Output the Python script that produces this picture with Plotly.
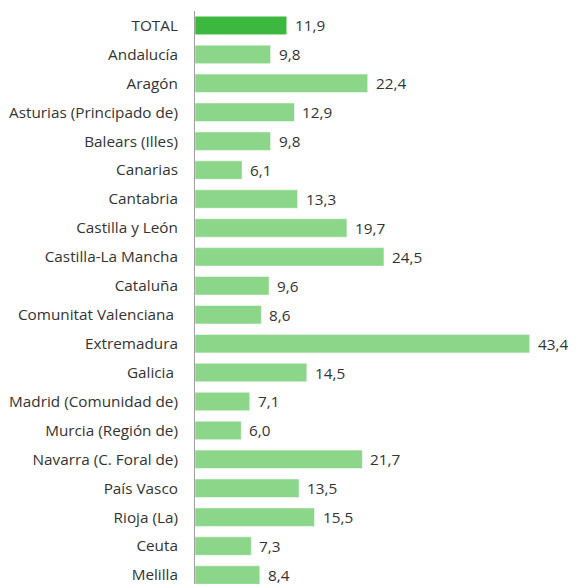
import plotly.graph_objects as go

categories = ["TOTAL", "Andalucía", "Aragón", "Asturias (Principado de)", "Balears (Illes)",
              "Canarias", "Cantabria", "Castilla y León", "Castilla-La Mancha", "Cataluña",
              "Comunitat Valenciana ", "Extremadura", "Galicia ", "Madrid (Comunidad de)",
              "Murcia (Región de)", "Navarra (C. Foral de)", "País Vasco", "Rioja (La)",
              "Ceuta", "Melilla"]
values = [11.9, 9.8, 22.4, 12.9, 9.8, 6.1, 13.3, 19.7, 24.5, 9.6, 8.6, 43.4, 14.5,
          7.1, 6.0, 21.7, 13.5, 15.5, 7.3, 8.4]

colors = ["#3db83f" if c == "TOTAL" else "#8cd68a" for c in categories]
labels = [f"{v:.1f}".replace(".", ",") for v in values]

FONT = "Open Sans"
FS = 15.3

fig = go.Figure(go.Bar(
    x=values, y=categories, orientation="h",
    marker=dict(color=colors, line=dict(color="rgba(255,255,255,0.5)", width=1)),
    hoverinfo="skip",
))

for c, v, t in zip(categories, values, labels):
    fig.add_annotation(x=v, y=c, text=t, showarrow=False, xanchor="left",
                       xshift=6, font=dict(size=FS, color="#333333", family=FONT))

fig.update_layout(
    width=568, height=576,
    margin=dict(l=187, r=0, t=2.5, b=0, autoexpand=False),
    paper_bgcolor="white", plot_bgcolor="white",
    bargap=0.36,
    showlegend=False,
    font=dict(family=FONT, size=FS, color="#333333"),
)
fig.update_xaxes(range=[0, 49.4], visible=False, showgrid=False, zeroline=False,
                 automargin=False)
fig.update_yaxes(type="category", range=[19.31, -0.5], autorange=False,
                 showline=True, linecolor="#a0a0a0", linewidth=1, automargin=False,
                 showgrid=False, ticks="", ticklabelstandoff=13,
                 tickfont=dict(size=FS, color="#333333", family=FONT))

fig.write_html("out.html")
